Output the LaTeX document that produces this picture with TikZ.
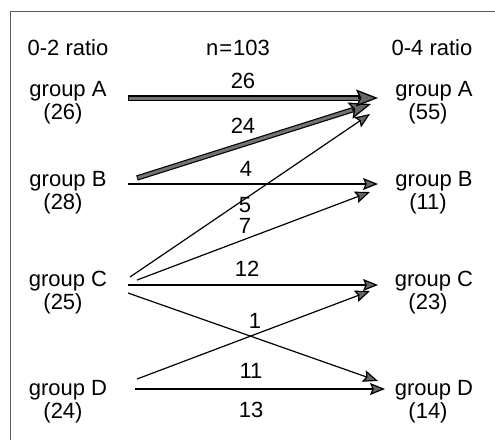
\documentclass[tikz,border=0pt]{standalone}
\usepackage{fontspec}
\setmainfont{Liberation Sans}
\usetikzlibrary{arrows.meta,calc}
\definecolor{headgray}{gray}{0.4}
\definecolor{bargray}{gray}{0.45}
\definecolor{framegray}{gray}{0.35}
\tikzset{
  lbl/.style={anchor=base, inner sep=0pt, font=\fontsize{22}{26}\selectfont},
  thinarr/.style={line width=1.2pt, -{Stealth[length=15pt,width=12pt,inset=2.5pt,fill=headgray,line width=1.2pt]}},
  thickout/.style={line width=5.4pt, black, shorten >=17pt},
  thickin/.style={line width=3pt, bargray, shorten >=16pt, shorten <=1pt},
  thickhead/.style={line width=1.3pt, -{Stealth[length=22pt,width=17pt,inset=4pt,fill=headgray]}},
}
\newcommand\ThickArr[2]{%
  \draw[thickout] (#1) -- (#2);
  \draw[thickin] (#1) -- (#2);
  \draw[thickhead] ($(#2)!20pt!(#1)$) -- (#2);
}
\begin{document}
\begin{tikzpicture}[x=1pt,y=-1pt]
\useasboundingbox (0,0) rectangle (495,440);
\draw[framegray, line width=0.8pt] (10,440) -- (10,11.5) -- (495,11.5);

% headers
\node[lbl] (h1) at (68,55) {0-2 ratio};
\node[lbl] (h2) at (238,55) {n\kern1pt=\kern1pt103};
\node[lbl] (h3) at (432,55) {0-4 ratio};

% left column
\node[lbl] (lA) at (68,96) {group A};
\node[lbl] (lAn) at (63,119) {(26)};
\node[lbl] (lB) at (68,186) {group B};
\node[lbl] (lBn) at (63,209) {(28)};
\node[lbl] (lC) at (68,286) {group C};
\node[lbl] (lCn) at (63,309) {(25)};
\node[lbl] (lD) at (68,395) {group D};
\node[lbl] (lDn) at (63,418) {(24)};

% right column
\node[lbl] (rA) at (434,96) {group A};
\node[lbl] (rAn) at (428,119) {(55)};
\node[lbl] (rB) at (434,186) {group B};
\node[lbl] (rBn) at (428,209) {(11)};
\node[lbl] (rC) at (434,286) {group C};
\node[lbl] (rCn) at (428,309) {(23)};
\node[lbl] (rD) at (434,395) {group D};
\node[lbl] (rDn) at (428,418) {(14)};

% ports
\coordinate (sAA) at (128,98);  \coordinate (eAA) at (378,98);
\coordinate (sBA) at (137,178); \coordinate (eBA) at (371,104);
\coordinate (sBB) at (128,184); \coordinate (eBB) at (378,184);
\coordinate (sCA) at (130,277); \coordinate (eCA) at (370,114);
\coordinate (sCB) at (137,280); \coordinate (eCB) at (370,192);
\coordinate (sCC) at (128,285); \coordinate (eCC) at (378,285);
\coordinate (sCD) at (128,293); \coordinate (eCD) at (378,381);
\coordinate (sDC) at (137,379); \coordinate (eDC) at (370,291);
\coordinate (sDD) at (135,389); \coordinate (eDD) at (385,389);

% thin arrows
\draw[thinarr] (sBB) -- (eBB);
\draw[thinarr] (sCA) -- (eCA);
\draw[thinarr] (sCB) -- (eCB);
\draw[thinarr] (sCC) -- (eCC);
\draw[thinarr] (sCD) -- (eCD);
\draw[thinarr] (sDC) -- (eDC);
\draw[thinarr] (sDD) -- (eDD);

% thick arrows
\ThickArr{sBA}{eBA}
\ThickArr{sAA}{eAA}

% counts
\node[lbl] (n26) at (243,88) {26};
\node[lbl] (n24) at (243,133) {24};
\node[lbl] (n4) at (246,176) {4};
\node[lbl] (n5) at (245,212) {5};
\node[lbl] (n7) at (245,233) {7};
\node[lbl] (n12) at (247,276) {12};
\node[lbl] (n1) at (255,328) {1};
\node[lbl] (n11) at (251,378) {11};
\node[lbl] (n13) at (251,417) {13};
\end{tikzpicture}
\end{document}
